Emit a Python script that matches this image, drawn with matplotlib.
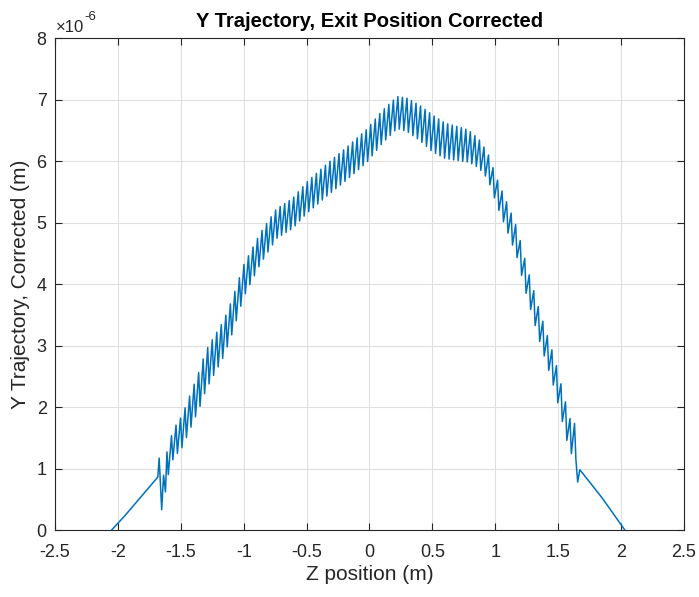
import numpy as np
import matplotlib.pyplot as plt

plt.rcParams['font.family'] = ['Liberation Sans', 'DejaVu Sans']
plt.rcParams['axes.unicode_minus'] = False

# y values in units of 1e-6 m, z in m
# straight run-in before the undulator
entry_z = [-2.05, -1.95, -1.85, -1.75, -1.683, -1.672, -1.652, -1.637, -1.622]
entry_y = [0.0, 0.22, 0.46, 0.70, 0.86, 1.17, 0.33, 0.89, 0.62]

# centre line of the wiggling part
center_z = [-1.61, -1.56, -1.49, -1.43, -1.35, -1.30, -1.16, -1.09, -1.00, -0.87,
            -0.74, -0.61, -0.50, -0.34, -0.18, -0.02, 0.10, 0.22, 0.30, 0.40,
            0.50, 0.60, 0.71, 0.79, 0.87, 0.94, 1.02, 1.10, 1.17, 1.25,
            1.35, 1.47, 1.59, 1.645]
center_y = [1.05, 1.40, 1.60, 1.90, 2.30, 2.60, 3.11, 3.48, 4.05, 4.57,
            4.98, 5.15, 5.40, 5.69, 5.96, 6.25, 6.55, 6.79, 6.75, 6.62,
            6.45, 6.33, 6.28, 6.24, 6.12, 5.92, 5.46, 5.06, 4.69, 4.05,
            3.33, 2.55, 1.55, 1.42]

# half height of the wiggle
amp_z = [-1.61, -1.30, -1.00, -0.70, -0.40, 0.00, 0.22, 0.50, 0.75, 0.95, 1.20, 1.45, 1.645]
amp_y = [0.22, 0.32, 0.26, 0.24, 0.26, 0.27, 0.26, 0.30, 0.27, 0.21, 0.24, 0.25, 0.28]
wiggle_period = 0.036
drop_share = 0.3  # part of each period spent on the steep down stroke

# drop out and run-out after the undulator
exit_z = [1.655, 1.672, 1.75, 1.85, 1.95, 2.03]
exit_y = [0.78, 0.98, 0.78, 0.52, 0.23, 0.0]

xticks = [-2.5, -2, -1.5, -1, -0.5, 0, 0.5, 1, 1.5, 2, 2.5]
xticklabels = ['-2.5', '-2', '-1.5', '-1', '-0.5', '0', '0.5', '1', '1.5', '2', '2.5']
yticks = [0, 1, 2, 3, 4, 5, 6, 7, 8]

# turning points of the wiggle: peak, then a quicker drop to the trough
peaks = np.arange(center_z[0], center_z[-1], wiggle_period)
troughs = peaks + drop_share * wiggle_period
zt = np.column_stack([peaks, troughs]).ravel()
sign = np.tile([1.0, -1.0], len(peaks))
yt = np.interp(zt, center_z, center_y) + sign * np.interp(zt, amp_z, amp_y)

z = np.concatenate([entry_z, zt, exit_z])
y = np.concatenate([entry_y, yt, exit_y])

fig = plt.figure(figsize=(6.99, 5.97), dpi=100)
ax = fig.add_axes([0.0787, 0.1122, 0.8998, 0.8241])

ax.plot(z, y, color='#0072BD', linewidth=1.1)

ax.set_xlim(-2.5, 2.5)
ax.set_ylim(0, 8)
ax.set_xticks(xticks)
ax.set_xticklabels(xticklabels)
ax.set_yticks(yticks)
ax.grid(True, color='#dfdfdf', linewidth=0.8)
ax.set_axisbelow(True)
for s in ax.spines.values():
    s.set_color('#262626')
    s.set_linewidth(0.8)
ax.tick_params(direction='in', length=5, width=0.8, colors='#262626',
               labelsize=13, top=True, right=True)
ax.tick_params(axis='x', pad=10)
ax.tick_params(axis='y', pad=6)

ax.set_xlabel('Z position (m)', fontsize=15, color='#262626', labelpad=3)
ax.set_ylabel('Y Trajectory, Corrected (m)', fontsize=15, color='#262626', labelpad=5)
ax.set_title('Y Trajectory, Exit Position Corrected', fontsize=14.5, fontweight='bold',
             color='black', pad=8)

# exponent note above the y axis
fig.text(0.0800, 0.946, '\u00d710', fontsize=12, color='#262626', ha='left', va='baseline')
fig.text(0.1200, 0.967, '-6', fontsize=9.5, color='#262626', ha='left', va='baseline')

fig.savefig('out.png', dpi=100)
